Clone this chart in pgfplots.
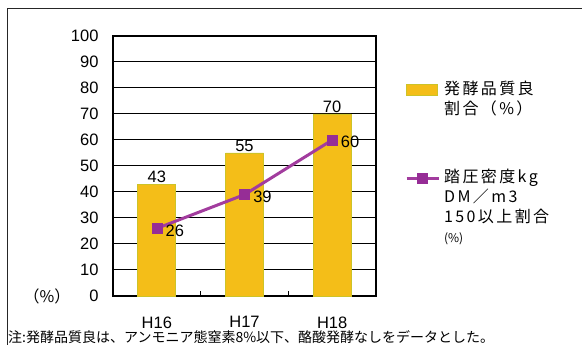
\documentclass[border=0pt]{standalone}
\usepackage{fontspec}
\usepackage{pgfplots}
\pgfplotsset{compat=1.18}
\setmainfont{Liberation Sans}
\newfontfamily\jp{Noto Sans CJK JP}
\newfontfamily\jpleg{Noto Sans CJK JP}[LetterSpace=15]

\definecolor{barfill}{RGB}{244,190,24}
\definecolor{baredge}{RGB}{205,195,40}
\definecolor{lineclr}{RGB}{162,60,158}
\definecolor{markclr}{RGB}{150,45,150}

\pgfplotsset{
  barlegend/.style={legend image code/.code={\draw[##1] (0bp,-5.5bp) rectangle (31bp,5.5bp);}},
  linelegend/.style={legend image code/.code={\draw[mark repeat=2, mark phase=2, ##1] plot coordinates {(0bp,0bp) (16bp,0bp) (32bp,0bp)};}},
}

\begin{document}
\begin{tikzpicture}
\useasboundingbox (0,0) rectangle (582bp,345bp);
% outer frame (top and left)
\draw[line width=1bp, black!85] (7bp,0) -- (7bp,336bp) -- (582bp,336bp);

\begin{axis}[
  at={(113bp,49bp)}, anchor=south west,
  scale only axis, width=263bp, height=260bp,
  xmin=-0.5, xmax=2.5, ymin=0, ymax=100,
  xtick={0,1,2}, xticklabels={H16,H17,H18},
  ytick={0,10,...,100},
  major tick length=0pt,
  extra x ticks={0.5,1.5}, extra x tick labels={},
  extra x tick style={major tick length=5bp, tick align=inside, tick style={black, line width=0.8bp}},
  tick pos=left,
  ymajorgrids, grid style={black, line width=1bp},
  axis line style={black, line width=1.1bp},
  tick label style={font=\fontsize{16.5bp}{19bp}\selectfont},
  /pgf/number format/assume math mode=true,
  yticklabel style={xshift=-11bp},
  xticklabel style={yshift=-17bp},
  clip=false,
  legend style={at={(1.11,0.83)}, anchor=north west, draw=none, fill=none,
    inner sep=0pt, column sep=2bp,
    nodes={font=\fontsize{16bp}{19bp}\selectfont\jpleg, text height=12bp, text depth=4bp, inner sep=2bp}},
  legend cell align=left,
]
\addplot[ybar, bar width=38bp, fill=barfill, draw=baredge, line width=0.8bp,
  nodes near coords,
  every node near coord/.append style={font=\fontsize{16.5bp}{19bp}\selectfont, inner sep=1bp, black},
  barlegend]
  coordinates {(0,43) (1,55) (2,70)};
\addlegendentry{発酵品質良}
\addlegendimage{empty legend}
\addlegendentry{割合（\%）}
\addlegendimage{empty legend}
\addlegendentry[text height=40bp]{}

\addplot[color=lineclr, line width=3bp, mark=square*, mark size=5bp,
  mark options={fill=markclr, draw=markclr, line width=0.5bp},
  nodes near coords,
  every node near coord/.append style={font=\fontsize{16.5bp}{19bp}\selectfont, black, anchor=west, inner sep=1bp, xshift=7.5bp, yshift=-2bp},
  linelegend]
  coordinates {(0,26) (1,39) (2,60)};
\addlegendentry{踏圧密度kg}
\addlegendimage{empty legend}
\addlegendentry{DM／m3}
\addlegendimage{empty legend}
\addlegendentry{150以上割合}
\addlegendimage{empty legend}
\addlegendentry[font=\fontsize{12bp}{14bp}\selectfont\jp]{(\%)}
\end{axis}

\node[font=\fontsize{16bp}{18bp}\selectfont\jp] at (47bp,49bp) {（\%）};
\node[anchor=west, inner sep=0pt, font=\fontsize{14bp}{16bp}\selectfont\jp] at (8bp,8bp)
  {注:発酵品質良は、アンモニア態窒素8\%以下、酪酸発酵なしをデータとした。};
\end{tikzpicture}
\end{document}
